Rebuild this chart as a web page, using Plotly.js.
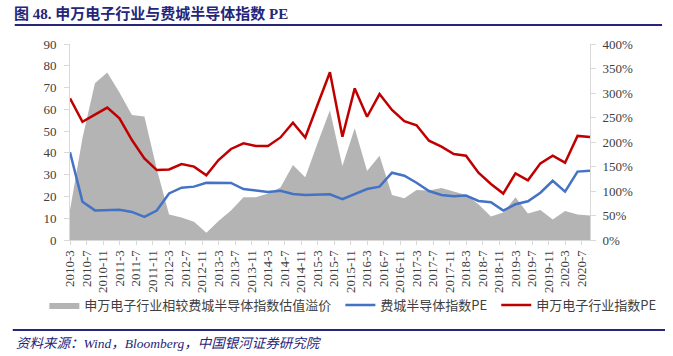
<!DOCTYPE html>
<html>
<head>
<meta charset="utf-8">
<script src="https://cdn.plot.ly/plotly-3.0.1.min.js"></script>
<style>html,body{margin:0;padding:0;background:#fff;}#chart{width:673px;height:356px;}</style>
</head>
<body>
<div id="chart"></div>
<script>
// Quarterly observation dates
const dates = ["2010-03-01","2010-06-01","2010-09-01","2010-12-01","2011-03-01","2011-06-01","2011-09-01","2011-12-01",
  "2012-03-01","2012-06-01","2012-09-01","2012-12-01","2013-03-01","2013-06-01","2013-09-01","2013-12-01",
  "2014-03-01","2014-06-01","2014-09-01","2014-12-01","2015-03-01","2015-06-01","2015-09-01","2015-12-01",
  "2016-03-01","2016-06-01","2016-09-01","2016-12-01","2017-03-01","2017-06-01","2017-09-01","2017-12-01",
  "2018-03-01","2018-06-01","2018-09-01","2018-12-01","2019-03-01","2019-06-01","2019-09-01","2019-12-01",
  "2020-03-01","2020-06-01","2020-09-01"];

// 申万电子行业相较费城半导体指数估值溢价 (%) - right axis
const premium = [61,208,320,342,301,255,252,145,52,46,37,15,39,60,87,87,95,107,153,128,197,265,151,228,
  141,172,92,85,102,101,106,99,92,73,48,56,87,54,61,42,59,52,50];

// 费城半导体指数PE - left axis
const soxPE = [40.3,17.6,13.6,13.6,13.9,12.9,10.6,13.5,21.4,24.0,24.5,26.3,26.3,26.2,23.4,22.6,22.0,22.6,21.1,20.7,
  20.7,21.0,18.8,21.1,23.4,24.5,30.9,29.5,26.3,22.5,20.7,20.1,20.4,17.9,17.3,13.5,16.4,17.8,21.7,27.2,22.2,31.4,31.8];

// 申万电子行业指数PE - left axis
const swPE = [65.0,54.3,57.6,60.8,55.9,45.9,37.5,32.1,32.4,34.9,33.7,29.7,36.7,41.8,44.4,43.2,43.2,47.1,53.9,47.1,
  62.0,77.0,47.4,69.6,56.6,67.0,59.7,54.6,52.7,45.6,42.9,39.5,38.7,30.9,25.7,21.3,30.6,27.4,35.2,38.7,35.5,47.8,47.3];

const seriesNames = ["申万电子行业相较费城半导体指数估值溢价", "费城半导体指数PE", "申万电子行业指数PE"];
const titleText = "图 48. 申万电子行业与费城半导体指数 PE";
const sourceText = "资料来源：Wind，Bloomberg，中国银河证券研究院";

const serif = "Liberation Serif, Noto Sans CJK SC, serif";
const cjk = "Noto Sans CJK SC, sans-serif";
const navy = "#25257a";
const axisCol = "#d9d9d9";

const traces = [
  {x: dates, y: premium, name: seriesNames[0], type: "scatter", mode: "lines", fill: "tozeroy",
   fillcolor: "#b4b4b4", line: {width: 0, color: "#b4b4b4"}, yaxis: "y", legend: "legend"},
  {x: dates, y: soxPE, name: seriesNames[1], type: "scatter", mode: "lines",
   line: {width: 2.5, color: "#4472c4"}, yaxis: "y2", legend: "legend2"},
  {x: dates, y: swPE, name: seriesNames[2], type: "scatter", mode: "lines",
   line: {width: 2.5, color: "#c00000"}, yaxis: "y2", legend: "legend3"}
];

const L = 70, R = 597, T = 44, B = 240, W = 673, H = 356;
const px = v => (v - L) / (R - L);
const py = v => (B - v) / (B - T);
const legFont = {family: cjk, size: 13, color: "#404040"};
const mkLegend = x0 => ({orientation: "h", x: px(x0), xanchor: "left", y: py(305), yanchor: "middle",
  font: legFont, bgcolor: "rgba(0,0,0,0)", borderwidth: 0});

const layout = {
  width: W, height: H,
  margin: {l: L, r: W - R, t: T, b: H - B, pad: 0},
  paper_bgcolor: "#fff", plot_bgcolor: "#fff",
  showlegend: true,
  title: {text: "<b>" + titleText + "</b>", x: 14 / W, xref: "container", xanchor: "left",
          y: 1 - 14 / H, yref: "container", yanchor: "middle",
          font: {family: serif, size: 15, color: navy}},
  xaxis: {type: "date", range: ["2010-03-01", "2020-09-01"], tick0: "2010-03-01", dtick: "M4",
          tickformat: "%Y-%-m", tickangle: -90, ticks: "outside", ticklen: 4, tickcolor: axisCol,
          showline: true, linecolor: axisCol, linewidth: 1, showgrid: false, zeroline: false,
          tickfont: {family: serif, size: 13, color: "#404040"}},
  yaxis: {range: [0, 400], dtick: 50, ticksuffix: "%", side: "right", ticks: "outside", ticklen: 5,
          tickcolor: axisCol, showline: true, linecolor: axisCol, showgrid: false, zeroline: false,
          ticklabelstandoff: 4, tickfont: {family: serif, size: 13, color: "#404040"}},
  yaxis2: {range: [0, 90], dtick: 10, side: "left", overlaying: "y", ticks: "outside", ticklen: 5,
           tickcolor: axisCol, showline: true, linecolor: axisCol, showgrid: false, zeroline: false,
           ticklabelstandoff: 5, tickfont: {family: serif, size: 13, color: "#404040"}},
  legend: mkLegend(44),
  legend2: mkLegend(344),
  legend3: mkLegend(502),
  shapes: [
    {type: "line", xref: "paper", yref: "paper", x0: px(14), x1: px(670), y0: py(25), y1: py(25),
     line: {color: navy, width: 2}},
    {type: "line", xref: "paper", yref: "paper", x0: px(12), x1: px(673), y0: py(330), y1: py(330),
     line: {color: navy, width: 2}}
  ],
  annotations: [
    {text: "<i>" + sourceText + "</i>", xref: "paper", yref: "paper", x: px(13), y: py(343),
     xanchor: "left", yanchor: "middle", showarrow: false,
     font: {family: serif, size: 13.5, color: navy}}
  ]
};

Plotly.newPlot("chart", traces, layout, {displayModeBar: false, staticPlot: true});
</script>
</body>
</html>
